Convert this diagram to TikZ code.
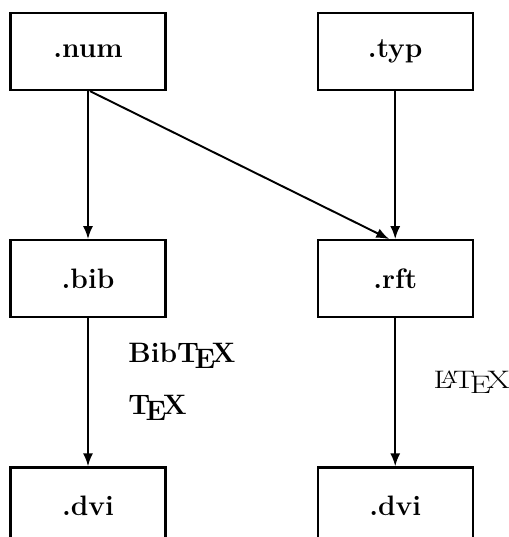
\documentclass[tikz,border=0pt]{standalone}
\usepackage{tikz}
\usetikzlibrary{positioning,arrows.meta}

\begin{document}
\begin{tikzpicture}[x=0.02cm,y=-0.02cm,
    file/.style={draw,line width=1.3pt,minimum width=3.1cm,minimum height=1.54cm,font=\fontsize{16}{19}\selectfont\bfseries},
    prog/.style={font=\fontsize{16}{19}\selectfont,inner sep=0pt},
    flow/.style={line width=1.1pt,-{Latex[length=0.26cm,width=0.2cm]}},
    node distance=2.96cm and 3cm]
    \useasboundingbox (0,0) rectangle (509,537) ;
    \clip (0,0) rectangle (509,537) ;
    \node[file] (num) at (88,51.5) {.num} ;
    \node[file,right=of num] (typ) {.typ} ;
    \node[file,below=of num] (bib) {.bib} ;
    \node[file,below=of typ] (rft) {.rft} ;
    \node[file,below=of bib] (dvil) {.dvi} ;
    \node[file,below=of rft] (dvir) {.dvi} ;
    \node[prog,anchor=base west] (bibtex) at (128,362) {\bfseries Bib\TeX} ;
    \node[prog,anchor=base west] (tex) at (128,414) {\bfseries\TeX} ;
    \node[prog,anchor=base west] (latex) at (433,388) {\scalebox{1.2}[0.9]{\LaTeX}} ;
    \draw[flow] (num) -- (bib) ;
    \draw[flow] ([xshift=0.04cm]num.south) -- ([xshift=-0.12cm]rft.north) ;
    \draw[flow] (typ) -- (rft) ;
    \draw[flow] (bib) -- (dvil) ;
    \draw[flow] (rft) -- (dvir) ;
  \end{tikzpicture}
\end{document}
